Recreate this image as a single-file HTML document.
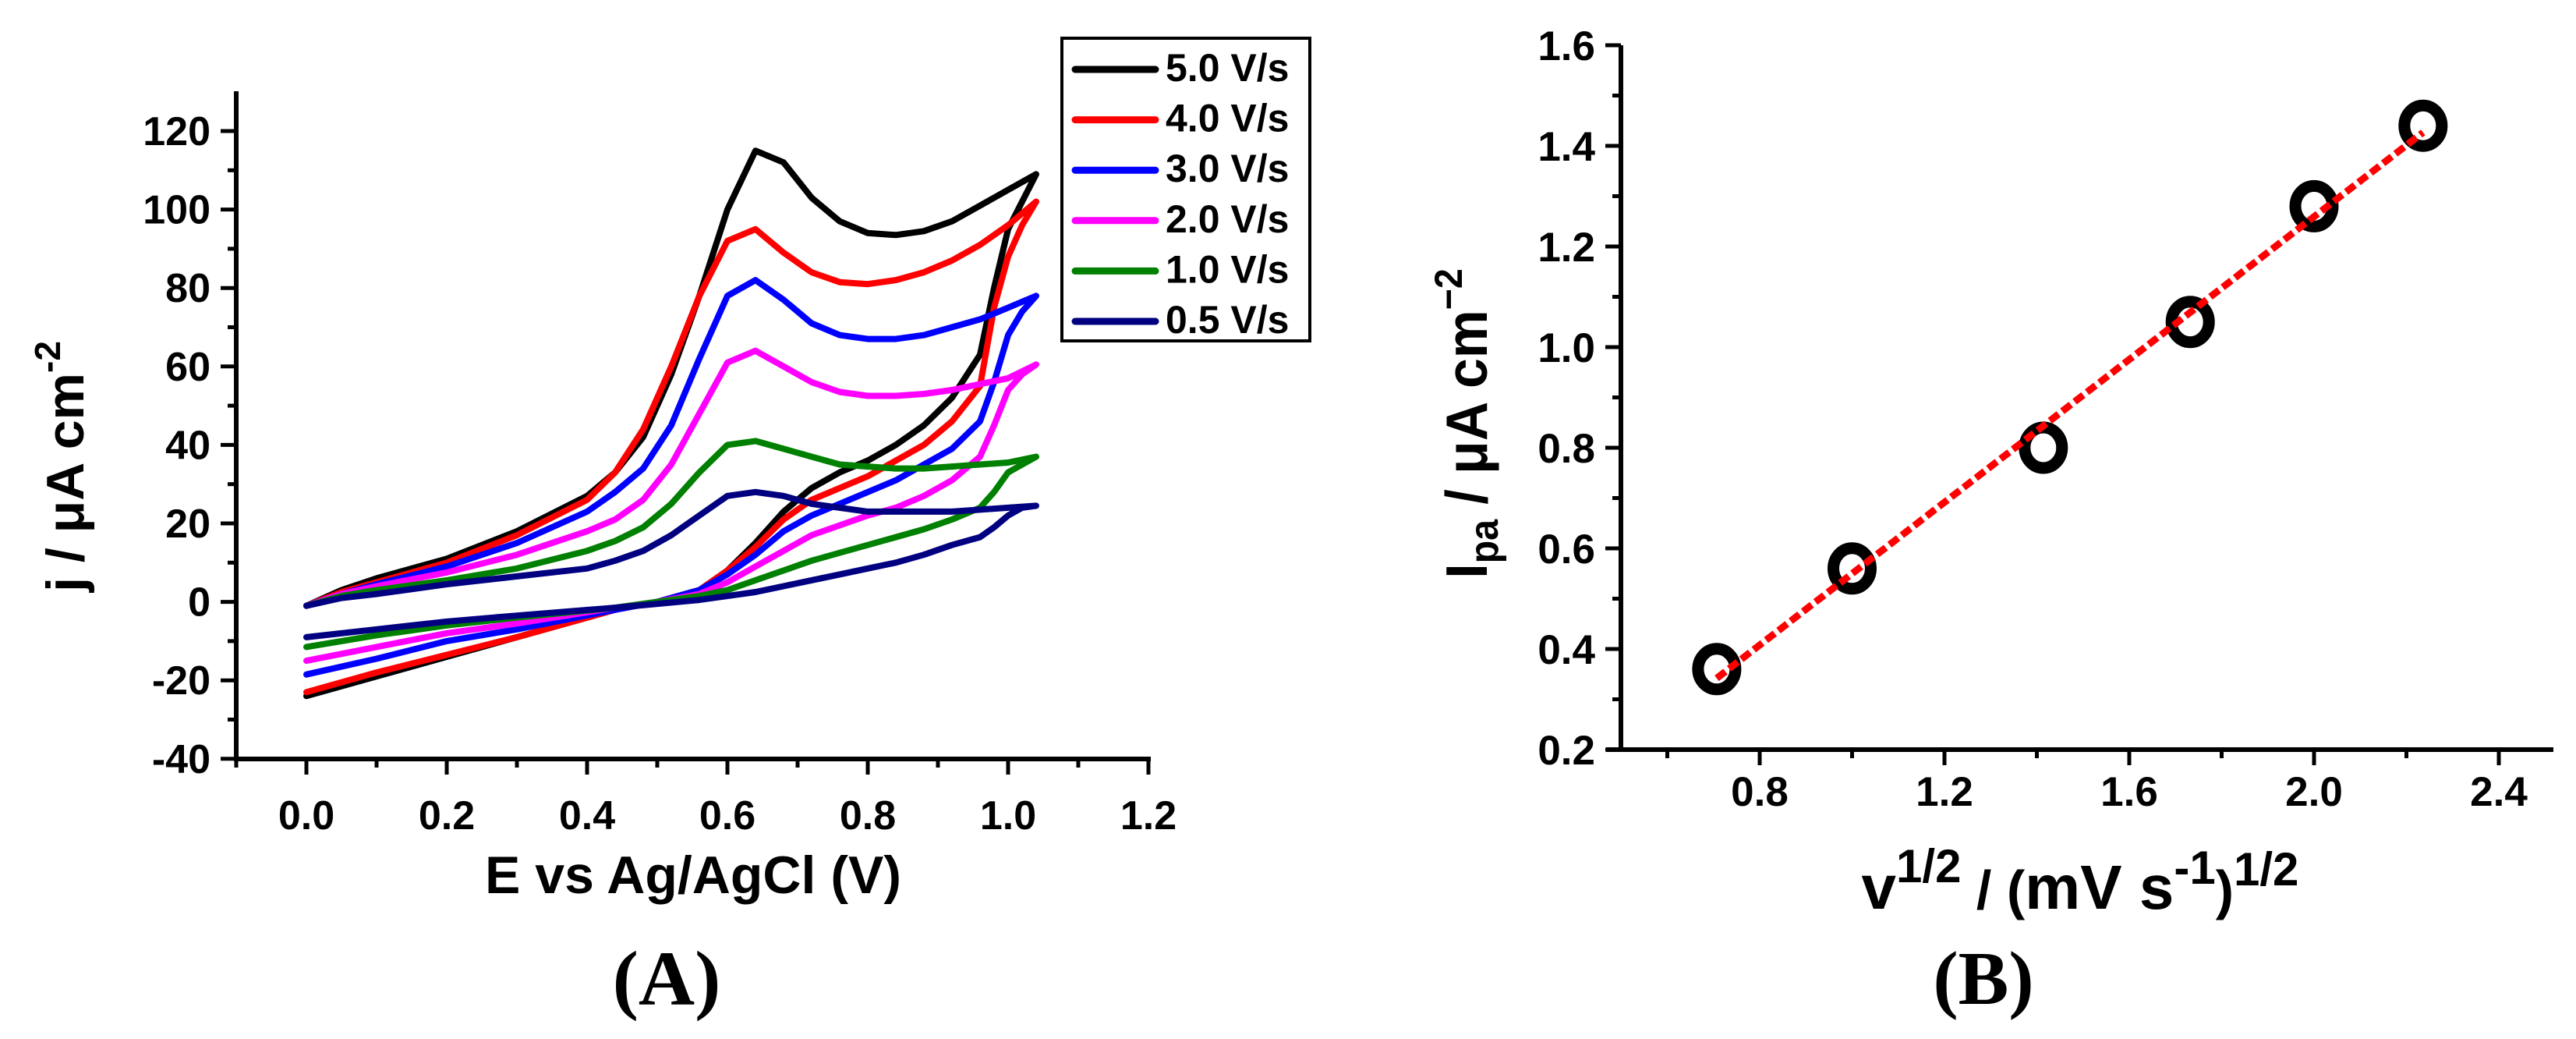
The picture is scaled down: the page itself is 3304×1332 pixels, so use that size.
<!DOCTYPE html>
<html><head><meta charset="utf-8"><style>
html,body{margin:0;padding:0;background:#fff;}
svg{display:block;font-family:"Liberation Sans",Arial,sans-serif;}
</style></head><body>
<svg id="fig" width="3304" height="1332" viewBox="0 0 3304 1332" xmlns="http://www.w3.org/2000/svg">
<g id="chartA"></g>
<g id="chartB"></g>
</svg>
<script>
// ---------- Chart A data ----------
const seriesLabels = ["5.0 V/s","4.0 V/s","3.0 V/s","2.0 V/s","1.0 V/s","0.5 V/s"];
const seriesColors = ["#000000","#ff0000","#0000ff","#ff00ff","#008000","#000080"];
const fwdE = [0,0.05,0.1,0.2,0.3,0.4,0.44,0.48,0.52,0.56,0.6,0.64,0.68,0.72,0.76,0.8,0.84,0.88,0.92,0.96,1.0,1.04];
const revE = [1.04,1.02,1.0,0.98,0.96,0.92,0.88,0.84,0.8,0.76,0.72,0.68,0.64,0.6,0.56,0.5,0.44,0.3,0.2,0.1,0];
const fwd50 = [-1,3,6,11,18,27,33,42,58,78,100,115,112,103,97,94,93.5,94.5,97,101,105,109];
const rev50 = [109,102,95,80,63,52,45,40,36,33,29,23,15,8,3,0,-2,-9,-14,-19,-24];
const fwd40 = [-1,2.5,5,10,17,26,33,44,60,78,92,95,89,84,81.5,81,82,84,87,91,96,102];
const rev40 = [102,96,88,75,55,46,40,36,32,29,26,21,14,8,3,0,-2,-9,-13.5,-18,-23];
const fwd30 = [-1,2,4.5,9,15,23,28,34,45,62,78,82,77,71,68,67,67,68,70,72,75,78];
const rev30 = [78,74,68,56,46,39,35,31,28,25,22,18,12,7,3,0,-2,-7,-10,-14.5,-18.5];
const fwd20 = [-1,2,4,7.5,12,18,21,26,35,48,61,64,60,56,53.5,52.5,52.5,53,54,55.5,57,60.5];
const rev20 = [60.5,58,54,45,37,31,27,24,22,19.5,17,13,9,5,2,0,-1.5,-5.5,-8,-11.5,-15];
const fwd10 = [-1,1.5,3,5.5,8.5,13,15.5,19,25,33,40,41,39,37,35,34.5,34,34,34.5,35,35.5,37];
const rev10 = [37,35,33,28,24,21,18.5,16.5,14.5,12.5,10.5,8,5.5,3,1.5,0,-1.5,-4,-6,-8.5,-11.5];
const fwd05 = [-1,1,2,4.5,6.5,8.5,10.5,13,17,22,27,28,27,25,24,23,23,23,23,23.5,24,24.5];
const rev05 = [24.5,24,22,19,16.5,14.5,12,10,8.5,7,5.5,4,2.5,1.5,0.5,-0.5,-1.5,-3.5,-5,-7,-9];
const fwdAll = [fwd50,fwd40,fwd30,fwd20,fwd10,fwd05];
const revAll = [rev50,rev40,rev30,rev20,rev10,rev05];
const xTicksA = [0.0,0.2,0.4,0.6,0.8,1.0,1.2];
const xTickLabelsA = ["0.0","0.2","0.4","0.6","0.8","1.0","1.2"];
const yTicksA = [-40,-20,0,20,40,60,80,100,120];
const yTickLabelsA = ["-40","-20","0","20","40","60","80","100","120"];

// ---------- Chart B data ----------
const sqrtRate = [0.707,1.0,1.414,1.732,2.0,2.236];
const peakCurrent = [0.36,0.56,0.80,1.05,1.28,1.44];
const xTicksB = [0.8,1.2,1.6,2.0,2.4];
const xTickLabelsB = ["0.8","1.2","1.6","2.0","2.4"];
const yTicksB = [0.2,0.4,0.6,0.8,1.0,1.2,1.4,1.6];
const yTickLabelsB = ["0.2","0.4","0.6","0.8","1.0","1.2","1.4","1.6"];

const NS = "http://www.w3.org/2000/svg";
function mk(parent, tag, attrs, text){
  const e = document.createElementNS(NS, tag);
  for (const k in attrs) e.setAttribute(k, attrs[k]);
  if (text !== undefined) e.textContent = text;
  parent.appendChild(e);
  return e;
}

// ---------- Chart A ----------
const A = document.getElementById('chartA');
const ax = v => 393 + v * 900;
const ay = j => 168 + (120 - j) * 5.03;
let el = mk(A,'line',{x1:303,y1:117,x2:303,y2:976,stroke:'#000','stroke-width':6});


el = mk(A,'line',{x1:300,y1:973,x2:1476,y2:973,stroke:'#000','stroke-width':6});


for (let k=-1;k<=12;k++){
  const v=k/10, major = k%2===0;
  const t = mk(A,'line',{x1:ax(v),y1:973,x2:ax(v),y2:973+(major?20:11),stroke:'#000','stroke-width':5});
  
  
}
xTicksA.forEach((v,i)=>{
  const t = mk(A,'text',{x:ax(v),y:1063,'text-anchor':'middle','font-size':52,'font-weight':'bold'},xTickLabelsA[i]);
  
  
});
for (let j=-40;j<=120;j+=10){
  const major = j%20===0;
  const t = mk(A,'line',{x1:303,y1:ay(j),x2:303-(major?20:11),y2:ay(j),stroke:'#000','stroke-width':5});
  
  
}
yTicksA.forEach((v,i)=>{
  const t = mk(A,'text',{x:270,y:ay(v)+18,'text-anchor':'end','font-size':52,'font-weight':'bold'},yTickLabelsA[i]);
  
  
});
fwdAll.forEach((f,s)=>{
  let d='';
  fwdE.forEach((e,i)=>{ d += (i?'L':'M') + ax(e).toFixed(1)+','+ay(f[i]).toFixed(1); });
  revE.forEach((e,i)=>{ d += 'L' + ax(e).toFixed(1)+','+ay(revAll[s][i]).toFixed(1); });
  const p = mk(A,'path',{d:d,fill:'none',stroke:seriesColors[s],'stroke-width':8,'stroke-linejoin':'round','stroke-linecap':'round'});
  
  
});
const lg = mk(A,'g',{});


mk(lg,'rect',{x:1362,y:49,width:318,height:388,fill:'#fff',stroke:'#000','stroke-width':4});
seriesLabels.forEach((lab,i)=>{
  const yy = 89 + i*64.6;
  const g = mk(lg,'g',{});
  
  
  mk(g,'line',{x1:1379,y1:yy,x2:1482,y2:yy,stroke:seriesColors[i],'stroke-width':9,'stroke-linecap':'round'});
  mk(g,'text',{x:1495,y:yy+15,'font-size':50,'font-weight':'bold'},lab);
});
el = mk(A,'text',{x:889,y:1145,'text-anchor':'middle','font-size':68,'font-weight':'bold'},'E vs Ag/AgCl (V)');


el = mk(A,'text',{transform:'translate(107,598) rotate(-90)','text-anchor':'middle','font-size':68,'font-weight':'bold'});


mk(el,'tspan',{},'j / \u03bcA cm');
mk(el,'tspan',{dy:-30,'font-size':46},'-2');
el = mk(A,'text',{x:855,y:1288,'text-anchor':'middle','font-size':100,'font-weight':'bold','font-family':'Liberation Serif, serif'},'(A)');



// ---------- Chart B ----------
const B = document.getElementById('chartB');
const bx = v => 2257 + (v - 0.8) * 592.5;
const by = v => 961 - (v - 0.2) * 645;
el = mk(B,'line',{x1:2079,y1:58,x2:2079,y2:964,stroke:'#000','stroke-width':6});


el = mk(B,'line',{x1:2060,y1:961,x2:3275,y2:961,stroke:'#000','stroke-width':6});


for (let k=3;k<=12;k++){
  const v=k/5, major = k%2===0;
  const t = mk(B,'line',{x1:bx(v),y1:961,x2:bx(v),y2:961+(major?20:11),stroke:'#000','stroke-width':5});
  
  
}
xTicksB.forEach((v,i)=>{
  const t = mk(B,'text',{x:bx(v),y:1033,'text-anchor':'middle','font-size':53,'font-weight':'bold'},xTickLabelsB[i]);
  
  
});
for (let k=2;k<=16;k++){
  const v=k/10, major = k%2===0;
  const t = mk(B,'line',{x1:2079,y1:by(v),x2:2079-(major?20:11),y2:by(v),stroke:'#000','stroke-width':5});
  
  
}
yTicksB.forEach((v,i)=>{
  const t = mk(B,'text',{x:2046,y:by(v)+19,'text-anchor':'end','font-size':53,'font-weight':'bold'},yTickLabelsB[i]);
  
  
});
const n = sqrtRate.length;
const mx = sqrtRate.reduce((a,b)=>a+b,0)/n, my = peakCurrent.reduce((a,b)=>a+b,0)/n;
let sxy=0,sxx=0;
for (let i=0;i<n;i++){ sxy+=(sqrtRate[i]-mx)*(peakCurrent[i]-my); sxx+=(sqrtRate[i]-mx)**2; }
const slope=sxy/sxx, icpt=my-slope*mx;
const x0=sqrtRate[0], x1=sqrtRate[n-1];
sqrtRate.forEach((v,i)=>{
  const c = mk(B,'ellipse',{cx:bx(v),cy:by(peakCurrent[i]),rx:24,ry:26,fill:'none',stroke:'#000','stroke-width':15});
  
  
});
el = mk(B,'line',{x1:bx(x0),y1:by(slope*x0+icpt),x2:bx(x1),y2:by(slope*x1+icpt),stroke:'#ff0000','stroke-width':9,'stroke-dasharray':'14 6'});


el = mk(B,'text',{x:2668,y:1165,'text-anchor':'middle','font-size':80,'font-weight':'bold'});


mk(el,'tspan',{},'v');
mk(el,'tspan',{dy:-34,'font-size':60},'1/2');
mk(el,'tspan',{dy:34,'font-size':70},' / (');
mk(el,'tspan',{'font-size':80},'mV s');
mk(el,'tspan',{dy:-32,'font-size':60},'-1');
mk(el,'tspan',{dy:32,'font-size':70},')');
mk(el,'tspan',{dy:-30,'font-size':60},'1/2');
el = mk(B,'text',{transform:'translate(1907,543) rotate(-90) scale(0.93,1)','text-anchor':'middle','font-size':75,'font-weight':'bold'});


mk(el,'tspan',{},'I');
mk(el,'tspan',{dy:14,'font-size':52},'pa');
mk(el,'tspan',{dy:-14},' / \u03bcA cm');
mk(el,'tspan',{dy:-32,'font-size':50},'\u22122');
el = mk(B,'text',{x:2544,y:1287,'text-anchor':'middle','font-size':97,'font-weight':'bold','font-family':'Liberation Serif, serif'},'(B)');


</script>
</body></html>
